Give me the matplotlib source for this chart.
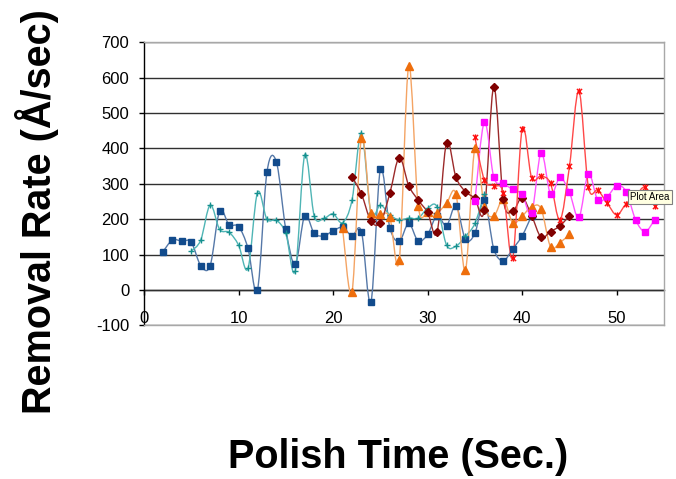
import numpy as np
import matplotlib
matplotlib.use("Agg")
import matplotlib.pyplot as plt
from matplotlib.path import Path
from matplotlib.patches import PathPatch

plt.rcParams['font.family'] = ['Liberation Sans', 'DejaVu Sans']

# Removal rate (Å/sec) sampled once per second of polish time
blue_t = list(range(2, 42))
blue_r = [108, 141, 138, 135, 69, 69, 223, 184, 179, 118, 0, 332, 362, 171, 73,
          210, 160, 153, 167, 177, 153, 165, -35, 341, 176, 138, 188, 138, 157,
          210, 182, 238, 143, 160, 254, 116, 83, 116, 153, 210]

teal_t = list(range(5, 37))
teal_r = [110, 141, 240, 171, 163, 127, 61, 275, 200, 197, 160, 55, 382, 210,
          202, 215, 190, 254, 444, 217, 240, 212, 198, 203, 203, 231, 235, 127,
          124, 152, 188, 272]

orange_t = list(range(21, 46))
orange_r = [175, -5, 430, 218, 215, 205, 85, 633, 238, 221, 218, 245, 271, 56,
            402, 235, 209, 256, 190, 209, 235, 229, 122, 134, 157]

darkred_t = list(range(22, 46))
darkred_r = [320, 271, 195, 190, 273, 374, 295, 254, 219, 163, 416, 318, 278,
             259, 226, 574, 256, 223, 261, 210, 149, 165, 181, 210]

red_t = list(range(35, 55))
red_r = [431, 311, 294, 275, 91, 455, 317, 322, 301, 198, 349, 563, 292, 282,
         245, 212, 244, 266, 290, 237]

magenta_t = list(range(35, 55))
magenta_r = [250, 475, 318, 301, 284, 270, 217, 388, 271, 318, 276, 205, 328,
             254, 264, 294, 278, 198, 165, 198]

x_ticks = [0, 10, 20, 30, 40, 50]
y_ticks = [-100, 0, 100, 200, 300, 400, 500, 600, 700]

# Excel-like star marker: an X with a vertical bar
star = Path([(-1, -1), (1, 1), (-1, 1), (1, -1), (0, -1.2), (0, 1.2)],
            [Path.MOVETO, Path.LINETO, Path.MOVETO, Path.LINETO, Path.MOVETO, Path.LINETO])


def smooth_path(xs, ys):
    """Catmull-Rom style Bezier path through the points (Excel smoothed line)."""
    p = np.column_stack([xs, ys]).astype(float)
    n = len(p)
    verts = [p[0]]
    codes = [Path.MOVETO]
    for i in range(n - 1):
        p0 = p[i - 1] if i > 0 else p[i]
        p1 = p[i]
        p2 = p[i + 1]
        p3 = p[i + 2] if i + 2 < n else p[i + 1]
        c1 = p1 + (p2 - p0) / 6.0
        c2 = p2 - (p3 - p1) / 6.0
        verts += [c1, c2, p2]
        codes += [Path.CURVE4] * 3
    return Path(verts, codes)


fig = plt.figure(figsize=(6.76, 4.79), dpi=100)
ax = fig.add_axes([144 / 676, 1 - 325.4 / 479, 520 / 676, (325.4 - 42.2) / 479])

series = [
    (blue_t, blue_r, '#5578A8', '#124B8C', 's', 4.6, 1.0),
    (teal_t, teal_r, '#4FB5B5', '#16908F', '+', 5.0, 1.0),
    (orange_t, orange_r, '#F4A464', '#EE6E0C', '^', 6.0, 1.0),
    (darkred_t, darkred_r, '#9C2A2A', '#800000', 'D', 4.2, 1.0),
    (magenta_t, magenta_r, '#FF55FF', '#FF00FF', 's', 5.0, 1.0),
    (red_t, red_r, '#FF4848', '#FF1010', star, 4.5, 1.0),
]

for t, r, lc, mc, mk, ms, mew in series:
    patch = PathPatch(smooth_path(t, r), facecolor='none', edgecolor=lc,
                      linewidth=1.0, zorder=3)
    ax.add_patch(patch)
    ax.plot(t, r, linestyle='none', marker=mk, markersize=ms, color=mc,
            markeredgecolor=mc, markeredgewidth=mew, zorder=4)

ax.set_xlim(0, 55)
ax.set_ylim(-100, 700)

# horizontal gridlines
ax.set_yticks(y_ticks)
ax.grid(axis='y', color='#303030', linewidth=1.0, zorder=1)
ax.set_axisbelow(True)

for side in ['top', 'right', 'bottom']:
    ax.spines[side].set_color('#A8A8A8')
    ax.spines[side].set_linewidth(1.0)
ax.spines['left'].set_color('#000000')
ax.spines['left'].set_linewidth(1.0)

ax.tick_params(axis='y', direction='out', length=3.6, width=1.0, color='#000000',
               pad=7, labelsize=12)
ax.set_yticklabels([str(v) for v in y_ticks])

# x labels sit just above the lower frame; tick marks hang off the zero line
ax.set_xticks(x_ticks)
ax.set_xticklabels([str(v) for v in x_ticks])
ax.tick_params(axis='x', length=0, pad=-10.5, labelsize=12)

sec = ax.secondary_xaxis(0.125)
sec.set_xticks(x_ticks)
sec.tick_params(axis='x', direction='out', length=3.6, width=1.0, color='#000000',
                labelbottom=False)
sec.spines['bottom'].set_color('#000000')
sec.spines['bottom'].set_linewidth(1.0)

fig.text(37 / 676, 1 - 211.5 / 479, 'Removal Rate (Å/sec)', rotation=90,
         ha='center', va='center', fontsize=28.5, fontweight='bold')
fig.text(398 / 676, 1 - 457 / 479, 'Polish Time (Sec.)', ha='center', va='center',
         fontsize=28.5, fontweight='bold')

# hover tip left on the plot area
fig.text(630 / 676, 1 - 197 / 479, 'Plot Area', ha='left', va='center', fontsize=7,
         bbox=dict(boxstyle='square,pad=0.25', facecolor='#FFFFE1',
                   edgecolor='#808080', linewidth=0.8), zorder=10)

fig.savefig('out.png', dpi=100, facecolor='white')
